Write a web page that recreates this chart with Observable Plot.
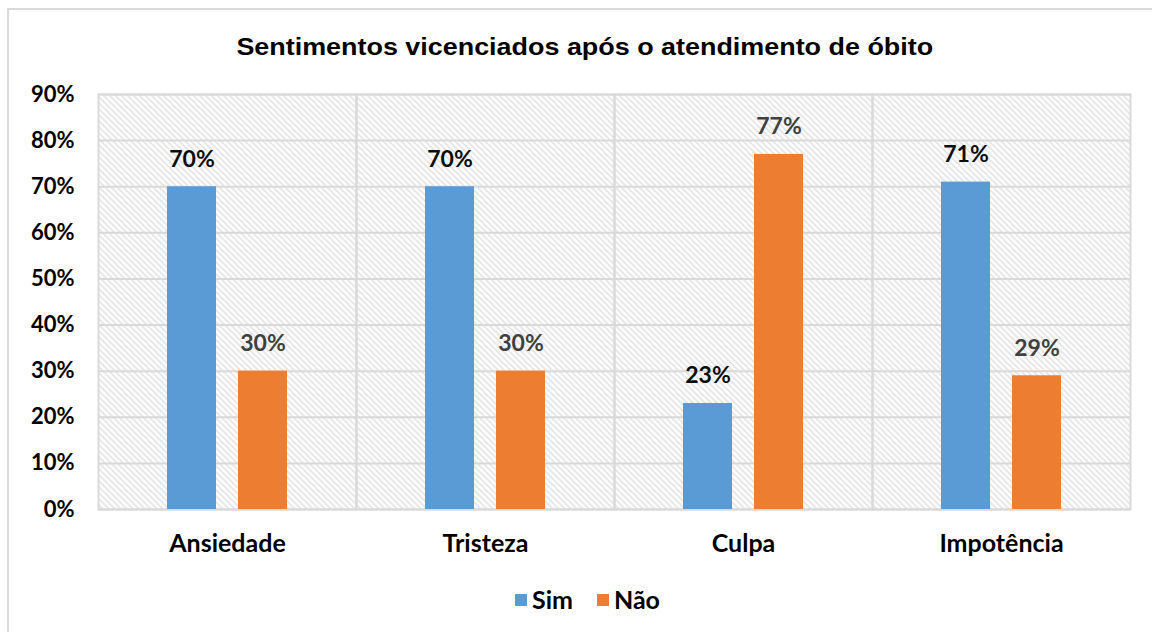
<!DOCTYPE html>
<html><head><meta charset="utf-8">
<script src="https://cdn.jsdelivr.net/npm/d3@7"></script>
<script src="https://cdn.jsdelivr.net/npm/@observablehq/plot@0.6"></script>
<style>
body{margin:0;background:#fff;}
#wrap{position:relative;width:1152px;height:632px;overflow:hidden;background:#fff;}
#border{position:absolute;left:7px;top:8px;width:1300px;height:800px;border-left:2px solid #d9d9d9;border-top:2px solid #d9d9d9;}
#title{position:absolute;left:0;width:1170px;top:34px;text-align:center;line-height:1;color:#000;white-space:nowrap;}
#title span{display:inline-block;font:bold 23px "Liberation Sans";transform:scaleX(1.17);transform-origin:center;}
#chart{position:absolute;left:0;top:0;}
#legend{position:absolute;top:587px;left:515px;display:flex;align-items:center;font:bold 25px Lato;line-height:1;color:#000;}
.sw{display:inline-block;width:12px;height:12px;margin-right:5px;}
</style></head>
<body>
<div id="wrap">
  <div id="border"></div>
  <div id="chart"></div>
  <div id="title"><span>Sentimentos vicenciados após o atendimento de óbito</span></div>
  <div id="legend"></div>
</div>
<script>
const categories = ["Ansiedade", "Tristeza", "Culpa", "Impotência"];
const series = ["Sim", "Não"];
const simValues = [0.70, 0.70, 0.23, 0.71];
const naoValues = [0.30, 0.30, 0.77, 0.29];
const yTicks = [0, 0.1, 0.2, 0.3, 0.4, 0.5, 0.6, 0.7, 0.8, 0.9];
const seriesColors = ["#5b9bd5", "#ed7d31"];
const labelColors = ["#0d0d0d", "#404040"];

const data = categories.flatMap((c, i) => [
  {cat: c, serie: series[0], v: simValues[i]},
  {cat: c, serie: series[1], v: naoValues[i]}
]);
const pct = d => Math.round(d * 100) + "%";

const chart = Plot.plot({
  width: 1152, height: 632,
  marginTop: 94, marginBottom: 123, marginLeft: 96, marginRight: 21,
  style: {fontFamily: "Lato", fontWeight: "bold", fontSize: "22px", color: "#000", background: "transparent"},
  fx: {domain: categories, padding: 0, label: null, axis: null},
  x: {domain: series, paddingInner: 0.3056, paddingOuter: 0.958, axis: null},
  y: {domain: [0, 0.9], ticks: yTicks, tickFormat: pct, label: null, tickSize: 0, tickPadding: 24},
  color: {domain: series, range: seriesColors},
  marks: [
    Plot.frame({fill: "url(#hatch)"}),
    Plot.gridY(yTicks, {stroke: "#d9d9d9", strokeOpacity: 1, strokeWidth: 2}),
    Plot.frame({stroke: "#d9d9d9", strokeWidth: 2}),
    Plot.axisFx({anchor: "bottom", label: null, tickSize: 0, tickPadding: 25, fontSize: 25}),
    Plot.barY(data, {fx: "cat", x: "serie", y: "v", fill: "serie"}),
    Plot.text(data.filter(d => d.serie === series[0]), {fx: "cat", x: "serie", y: "v", text: d => pct(d.v), lineAnchor: "bottom", dy: -20, fontSize: 23, fill: labelColors[0]}),
    Plot.text(data.filter(d => d.serie === series[1]), {fx: "cat", x: "serie", y: "v", text: d => pct(d.v), lineAnchor: "bottom", dy: -20, fontSize: 23, fill: labelColors[1]})
  ]
});

const svgNS = "http://www.w3.org/2000/svg";
const defs = document.createElementNS(svgNS, "defs");
defs.innerHTML = '<pattern id="hatch" patternUnits="userSpaceOnUse" width="6" height="6">' +
  '<rect width="6" height="6" fill="#fff"/>' +
  '<path d="M-1,-1 L7,7 M-1,5 L1,7 M5,-1 L7,1" stroke="#dcdcdc" stroke-width="1.4"/></pattern>';
chart.insertBefore(defs, chart.firstChild);
document.getElementById("chart").appendChild(chart);

const legend = document.getElementById("legend");
series.forEach((s, i) => {
  const item = document.createElement("span");
  item.style.display = "inline-flex";
  item.style.alignItems = "center";
  item.style.marginRight = i === 0 ? "24px" : "0";
  item.innerHTML = `<span class="sw" style="background:${seriesColors[i]}"></span>${s}`;
  legend.appendChild(item);
});
</script>
</body></html>
